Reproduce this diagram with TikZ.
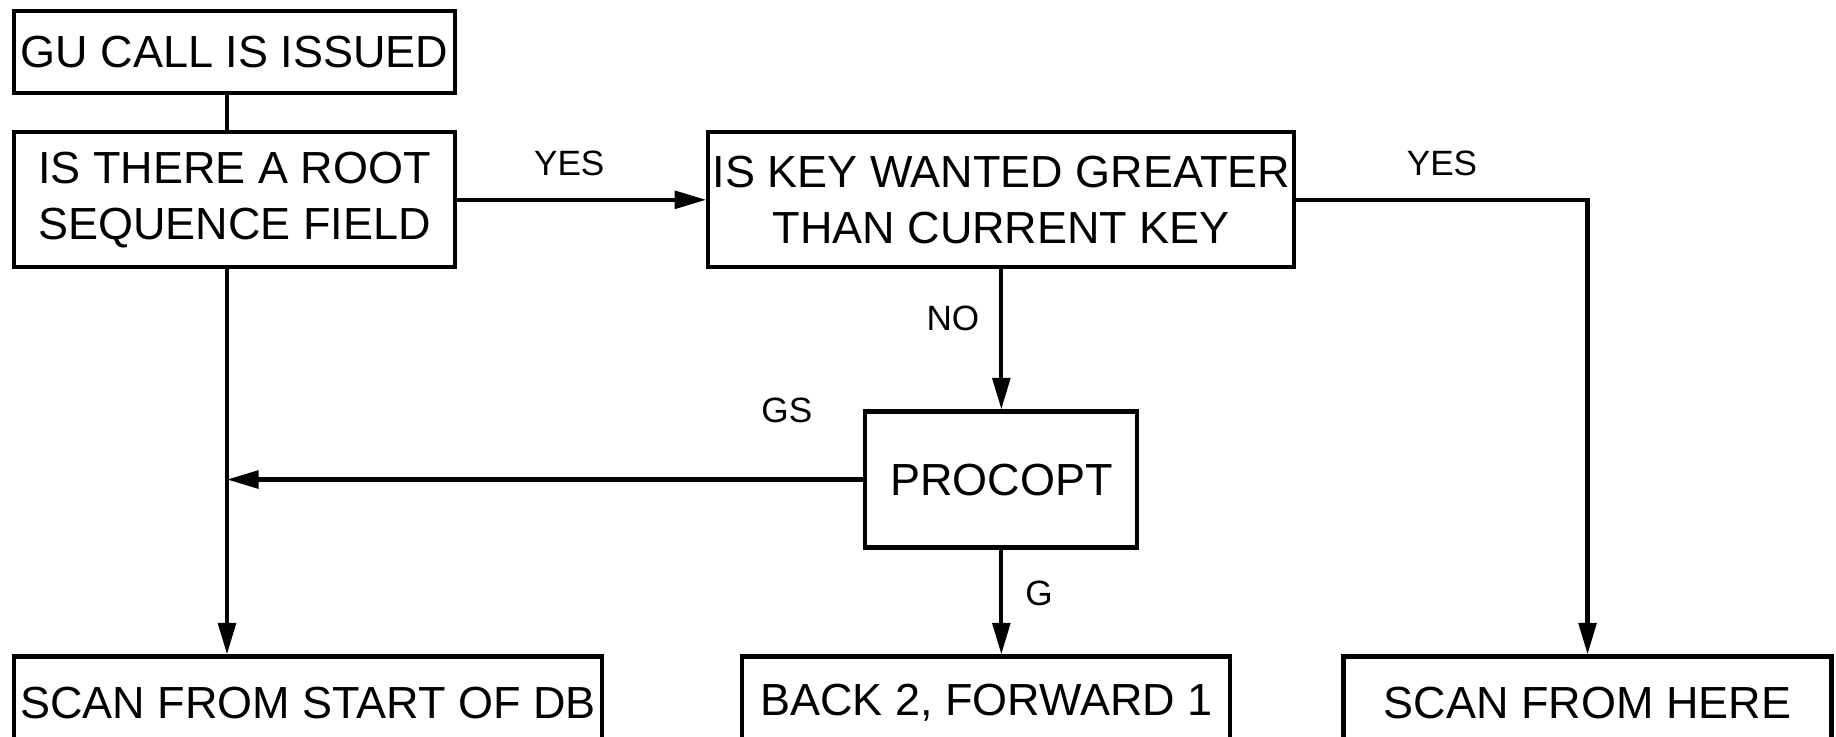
\documentclass[tikz,border=0pt]{standalone}
\usepackage{fontspec}
\setmainfont{Liberation Sans}
\usetikzlibrary{arrows.meta, positioning}

\begin{document}
\begin{tikzpicture}[
  >={Triangle[length=9pt,width=5pt]},
  box/.style={draw, line width=1.2pt, inner sep=0pt, align=center,
              font=\fontsize{12.8}{16}\selectfont},
  arr/.style={->, line width=1.2pt},
  lnk/.style={line width=1.2pt},
  tag/.style={inner sep=0pt, font=\fontsize{10}{12}\selectfont},
]
\useasboundingbox (0,0) rectangle (18.36,-7.37);

%% ---------- Top: call and root test ----------------------------
\node[box, minimum width=4.41cm, minimum height=0.82cm, anchor=north west]
      (gu) at (0.12,-0.09) {GU CALL IS ISSUED};
\node[box, minimum width=4.41cm, minimum height=1.35cm, below=0.35cm of gu]
      (root) {IS THERE A ROOT\\SEQUENCE FIELD};

%% ---------- Middle: key test and PROCOPT ----------------------
\node[box, minimum width=5.86cm, minimum height=1.35cm, right=2.49cm of root]
      (key) {IS KEY WANTED GREATER\\THAN CURRENT KEY};
\node[box, minimum width=2.72cm, minimum height=1.36cm, below=1.4cm of key]
      (procopt) {PROCOPT};

%% ---------- Bottom row: outcomes ------------------------------
\node[box, minimum width=5.88cm, minimum height=0.92cm,
      below right=3.85cm and 0cm of root.south west]
      (startdb) {SCAN FROM START OF DB};
\node[box, minimum width=4.88cm, minimum height=0.92cm, right=1.36cm of startdb]
      (back) {BACK 2, FORWARD 1};
\node[box, minimum width=4.88cm, minimum height=0.92cm, right=1.09cm of back]
      (here) {SCAN FROM HERE};

%% left trunk line
\coordinate (lx) at (2.27,0);

%% ---- Arrows ---------------------------------------------------
\draw[lnk] (gu.south -| lx) -- (root.north -| lx);
\draw[arr] (root) -- node[tag, above=0.22cm, pos=0.45]{YES} (key);
\draw[arr] (key.east) -| node[tag, above=0.22cm, pos=0.25]{YES} (here.north);
\draw[arr] (key) -- node[tag, left=0.2cm, pos=0.35]{NO} (procopt);
\draw[arr] (procopt.west) -- node[tag, above=0.55cm, pos=0.12]{GS} (procopt.west -| lx);
\draw[arr] (root.south -| lx) -- (startdb.north -| lx);
\draw[arr] (procopt.south) -- node[tag, right=0.22cm, pos=0.42]{G} (procopt.south |- back.north);
\end{tikzpicture}
\end{document}
